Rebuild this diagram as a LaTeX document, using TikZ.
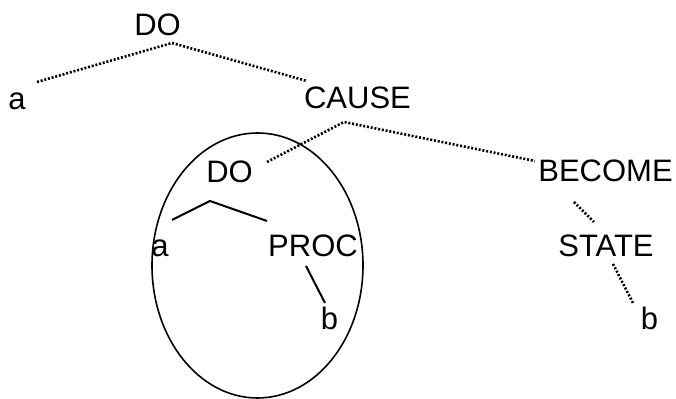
\documentclass[tikz,border=0pt]{standalone}
\usepackage{fontspec}
\setmainfont{Liberation Sans}
\usepackage{tikz}

\begin{document}
\begin{tikzpicture}[x=0.5pt,y=-0.5pt,
        lbl/.style={anchor=base,inner sep=0pt,font=\fontsize{15.5}{18}\selectfont},
        dotline/.style={line width=1.3pt,dash pattern=on 1pt off 0.9pt},
        solidline/.style={line width=1pt}]
        \useasboundingbox (0,0) rectangle (676,399);

        \node (Tdo)      at (157.5,36)  [lbl] {DO};
        \node (Ta)       at (17,110)    [lbl] {a};
        \node (Tcause)   at (357.5,109) [lbl] {CAUSE};
        \node (Ido)      at (229.5,183) [lbl] {DO};
        \node (Tbecome)  at (605.5,182) [lbl] {BECOME};
        \node (Ia)       at (160,257)   [lbl] {a};
        \node (Iproc)    at (313,257)   [lbl] {PROC};
        \node (Tstate)   at (606,257)   [lbl] {STATE};
        \node (Ib)       at (329.5,330) [lbl] {b};
        \node (Tb)       at (649.5,330) [lbl] {b};

        \coordinate (TdoL)     at (37,82);
        \coordinate (TdoTip)   at (172,43);
        \coordinate (TdoR)     at (307,81);
        \coordinate (TcauseL)  at (267,162);
        \coordinate (TcauseTip) at (344,122);
        \coordinate (TcauseR)  at (535,161);
        \coordinate (TbecomeB) at (574,202);
        \coordinate (TstateT)  at (594,222);
        \coordinate (TstateB)  at (613,264);
        \coordinate (TbT)      at (633,303);
        \coordinate (IdoL)     at (172,220);
        \coordinate (IdoTip)   at (210,201);
        \coordinate (IdoR)     at (267,221);
        \coordinate (IprocB)   at (306,266);
        \coordinate (IbT)      at (325,303);

        \draw[dotline] (TdoL) -- (TdoTip) -- (TdoR);
        \draw[dotline] (TcauseL) -- (TcauseTip) -- (TcauseR);
        \draw[dotline] (TbecomeB) -- (TstateT);
        \draw[dotline] (TstateB) -- (TbT);

        \draw[solidline] (IdoL) -- (IdoTip) -- (IdoR);
        \draw[solidline] (IprocB) -- (IbT);

        \draw[line width=0.8pt] (257.5,265.5) ellipse [x radius=105.5, y radius=132.5];
    \end{tikzpicture}
\end{document}
